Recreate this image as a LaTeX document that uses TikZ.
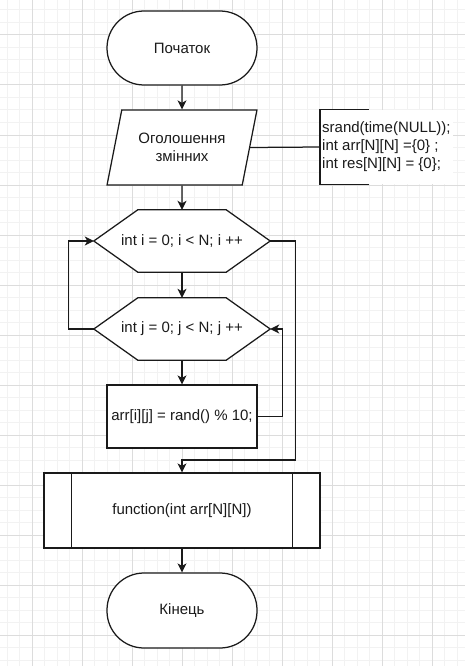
\documentclass[tikz,border=0pt]{standalone}
\usepackage{fontspec}
\setmainfont{Liberation Sans}
\usetikzlibrary{arrows.meta,shapes.geometric}
\definecolor{gridminor}{HTML}{F2F2F2}
\definecolor{gridmajor}{HTML}{DCDCDC}
\definecolor{ink}{HTML}{1A1A1A}
\begin{document}
\begin{tikzpicture}[x=1pt,y=-1pt,
    arrow/.style = {line width=1.25pt,draw=ink,-{Stealth[length=9pt,width=9pt,inset=2.5pt]}},
    line/.style = {line width=1.25pt,draw=ink},
    every node/.style = {font=\fontsize{15}{18}\selectfont,text=ink},
    terminal/.style = {draw=ink,line width=1.25pt,fill=white,rectangle,rounded corners=37pt,minimum width=150pt,minimum height=74pt},
    iobox/.style = {draw=ink,line width=1.25pt,fill=white,trapezium,trapezium left angle=72,trapezium right angle=108,trapezium stretches=true,minimum width=150pt,minimum height=75pt,align=center},
    loopbox/.style = {rectangle,minimum width=176pt,minimum height=62pt},
    procbox/.style = {draw=ink,line width=1.25pt,fill=white,rectangle,minimum width=150pt,minimum height=63pt}]
    \useasboundingbox (0,0) rectangle (465,666);
    \fill[white] (0,0) rectangle (465,666);

    % grid
    \foreach \x in {7,19.5,...,465} \draw[gridminor,line width=1pt] (\x,0) -- (\x,666);
    \foreach \y in {-2.5,10,...,666} \draw[gridminor,line width=1pt] (0,\y) -- (465,\y);
    \foreach \x in {32,82,...,465} \draw[gridmajor,line width=1pt] (\x,0) -- (\x,666);
    \foreach \y in {35,85,...,666} \draw[gridmajor,line width=1pt] (0,\y) -- (465,\y);

    \node[terminal] (start) at (182,48) {Початок};
    \node[iobox] (decl) at (182,147.5) {Оголошення\\змінних};
    \node[anchor=west,inner xsep=2pt,inner ysep=0pt,minimum height=74pt,align=left,fill=white] (vars) at (320,147)
        {srand(time(NULL));\\int arr[N][N] =\{0\} ;\\int res[N][N] = \{0\};};
    \node[loopbox] (iloop) at (182,241) {};
    \node[loopbox] (jloop) at (182,329) {};
    \node[procbox] (fill) at (182,416.5) {arr[i][j] = rand() \% 10;};
    \node[procbox,minimum width=276pt,minimum height=75pt] (func) at (182,510.5) {function(int arr[N][N])};
    \node[terminal,minimum height=75pt] (end) at (182,610.5) {Кінець};
    \coordinate (merge) at (182,460);

    % hexagons of the two loops
    \foreach \h/\txt in {iloop/{int i = 0; i < N; i ++},jloop/{int j = 0; j < N; j ++}} {
        \filldraw[line,fill=white] (\h.west) -- ([xshift=44pt]\h.north west) -- ([xshift=-44pt]\h.north east)
            -- (\h.east) -- ([xshift=-44pt]\h.south east) -- ([xshift=44pt]\h.south west) -- cycle;
        \node at (\h.center) {\txt};
    }

    % side lines of the subroutine box
    \draw[line] ([xshift=28pt]func.north west) -- ([xshift=28pt]func.south west);
    \draw[line] ([xshift=-28pt]func.north east) -- ([xshift=-28pt]func.south east);

    % comment bracket
    \draw[line] ([xshift=49pt]vars.north west) -- (vars.north west) -- (vars.south west) -- ([xshift=49pt]vars.south west);
    \draw[line] (decl.east) -- (vars.west);

    \draw[arrow] (start) -- (decl);
    \draw[arrow] (decl) -- (iloop);
    \draw[arrow] (iloop) -- (jloop);
    \draw[arrow] (jloop) -- (fill);
    \draw[arrow] (fill.east) -- ++(25,0) |- (jloop.east);
    \draw[arrow] (jloop.west) -- ++(-25,0) |- (iloop.west);
    \draw[arrow] (iloop.east) -- ++(25,0) |- (merge) -- (func.north);
    \draw[arrow] (func) -- (end);
\end{tikzpicture}
\end{document}
